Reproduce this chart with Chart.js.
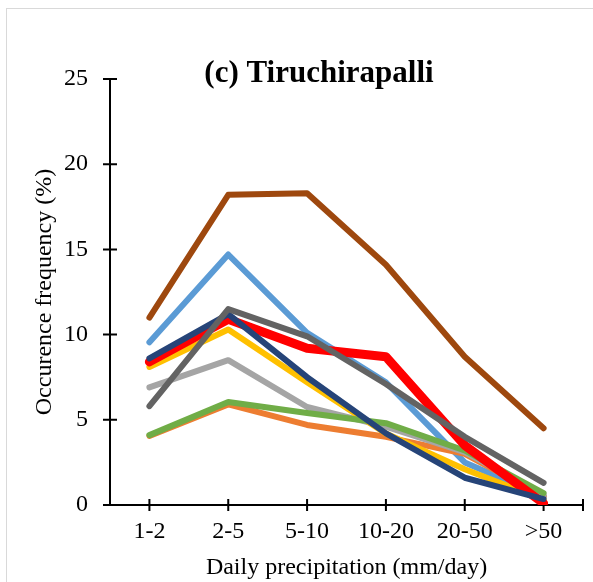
<!DOCTYPE html>
<html lang="en">
<head>
<meta charset="UTF-8">
<title>Tiruchirapalli</title>
<script src="https://cdn.jsdelivr.net/npm/chart.js"></script>
<style>
    body { margin: 0; background: #fff; }
    #wrap { position: relative; width: 593px; height: 582px; overflow: hidden; }
    #frame { position: absolute; left: 6px; top: 8px; width: 700px; height: 700px; border: 1px solid #d9d9d9; }
    canvas { position: absolute; left: 0; top: 0; }
</style>
</head>
<body>
<div id="wrap">
    <div id="frame"></div>
    <canvas id="chart" width="593" height="582"></canvas>
</div>
<script>
// Данные графика
const categories = ['1-2', '2-5', '5-10', '10-20', '20-50', '>50'];
const yTicks = [0, 5, 10, 15, 20, 25];

const darkGray  = [5.8, 11.5, 9.9, 7.1, 4.0, 1.3];
const navy      = [8.6, 11.2, 7.5, 4.2, 1.6, 0.35];
const red       = [8.4, 10.9, 9.2, 8.7, 3.5, 0.1];
const brown     = [11.0, 18.2, 18.3, 14.1, 8.7, 4.5];
const green     = [4.1, 6.05, 5.4, 4.8, 3.2, 0.7];
const gold      = [8.1, 10.3, 7.2, 4.2, 2.1, 0.3];
const lightGray = [6.9, 8.5, 5.75, 4.6, 3.1, 0.6];
const orange    = [4.05, 5.9, 4.7, 4.0, 3.0, 0.5];
const lightBlue = [9.55, 14.7, 10.1, 7.2, 2.5, 0.5];

const serif = 'Liberation Serif, Times New Roman, serif';

// Первый набор рисуется поверх остальных
const series = [
    { data: darkGray,  color: '#636363', width: 6 },
    { data: navy,      color: '#264478', width: 6 },
    { data: red,       color: '#FF0000', width: 9 },
    { data: brown,     color: '#9E480E', width: 6 },
    { data: green,     color: '#70AD47', width: 6 },
    { data: gold,      color: '#FFC000', width: 6 },
    { data: lightGray, color: '#A5A5A5', width: 6 },
    { data: orange,    color: '#ED7D31', width: 6 },
    { data: lightBlue, color: '#5B9BD5', width: 6 },
];

// Засечки, пересекающие оси (как в Excel)
const crossTicks = {
    id: 'crossTicks',
    beforeDatasetsDraw(chart) {
        const { ctx, scales: { x, y } } = chart;
        ctx.save();
        ctx.strokeStyle = '#000';
        ctx.lineWidth = 2;
        ctx.beginPath();
        y.ticks.forEach((t, i) => {
            const py = y.getPixelForTick(i);
            ctx.moveTo(y.right - 7, py);
            ctx.lineTo(y.right + 7, py);
        });
        x.ticks.forEach((t, i) => {
            const px = x.getPixelForTick(i);
            ctx.moveTo(px, x.top - 6);
            ctx.lineTo(px, x.top + 6);
        });
        ctx.moveTo(x.right, x.top - 6);
        ctx.lineTo(x.right, x.top + 6);
        ctx.stroke();
        ctx.restore();
    }
};

// Заголовок внутри области графика
const plotTitle = {
    id: 'plotTitle',
    afterDraw(chart) {
        const ctx = chart.ctx;
        ctx.save();
        ctx.font = 'bold 31px ' + serif;
        ctx.fillStyle = '#000';
        ctx.textAlign = 'center';
        ctx.textBaseline = 'alphabetic';
        ctx.fillText('(c) Tiruchirapalli', 319, 82);
        ctx.restore();
    }
};

new Chart(document.getElementById('chart'), {
    type: 'line',
    data: {
        labels: categories,
        datasets: series.map(s => ({
            data: s.data,
            borderColor: s.color,
            backgroundColor: s.color,
            borderWidth: s.width,
            borderCapStyle: 'round',
            borderJoinStyle: 'round',
            pointRadius: 0,
            tension: 0,
            fill: false
        }))
    },
    options: {
        responsive: false,
        animation: false,
        layout: { padding: { left: 0, top: 79, right: 10, bottom: 0 } },
        plugins: { legend: { display: false }, tooltip: { enabled: false } },
        scales: {
            x: {
                offset: true,
                grid: { display: false, drawTicks: false },
                border: { display: true, color: '#000', width: 2 },
                ticks: { color: '#000', font: { family: serif, size: 24 }, padding: 12, maxRotation: 0 },
                title: {
                    display: true,
                    text: 'Daily precipitation (mm/day)',
                    color: '#000',
                    font: { family: serif, size: 24 },
                    padding: { top: 0, bottom: 0 }
                },
                afterFit(scale) { scale.height = 77; }
            },
            y: {
                min: 0,
                max: 25,
                afterBuildTicks(scale) { scale.ticks = yTicks.map(v => ({ value: v })); },
                grid: { display: false, drawTicks: false },
                border: { display: true, color: '#000', width: 2 },
                ticks: { color: '#000', font: { family: serif, size: 24 }, padding: 22 },
                title: {
                    display: true,
                    text: 'Occurence frequency (%)',
                    color: '#000',
                    font: { family: serif, size: 24 },
                    padding: { top: 30, bottom: 0 }
                },
                afterFit(scale) { scale.width = 110; }
            }
        }
    },
    plugins: [crossTicks, plotTitle]
});
</script>
</body>
</html>
